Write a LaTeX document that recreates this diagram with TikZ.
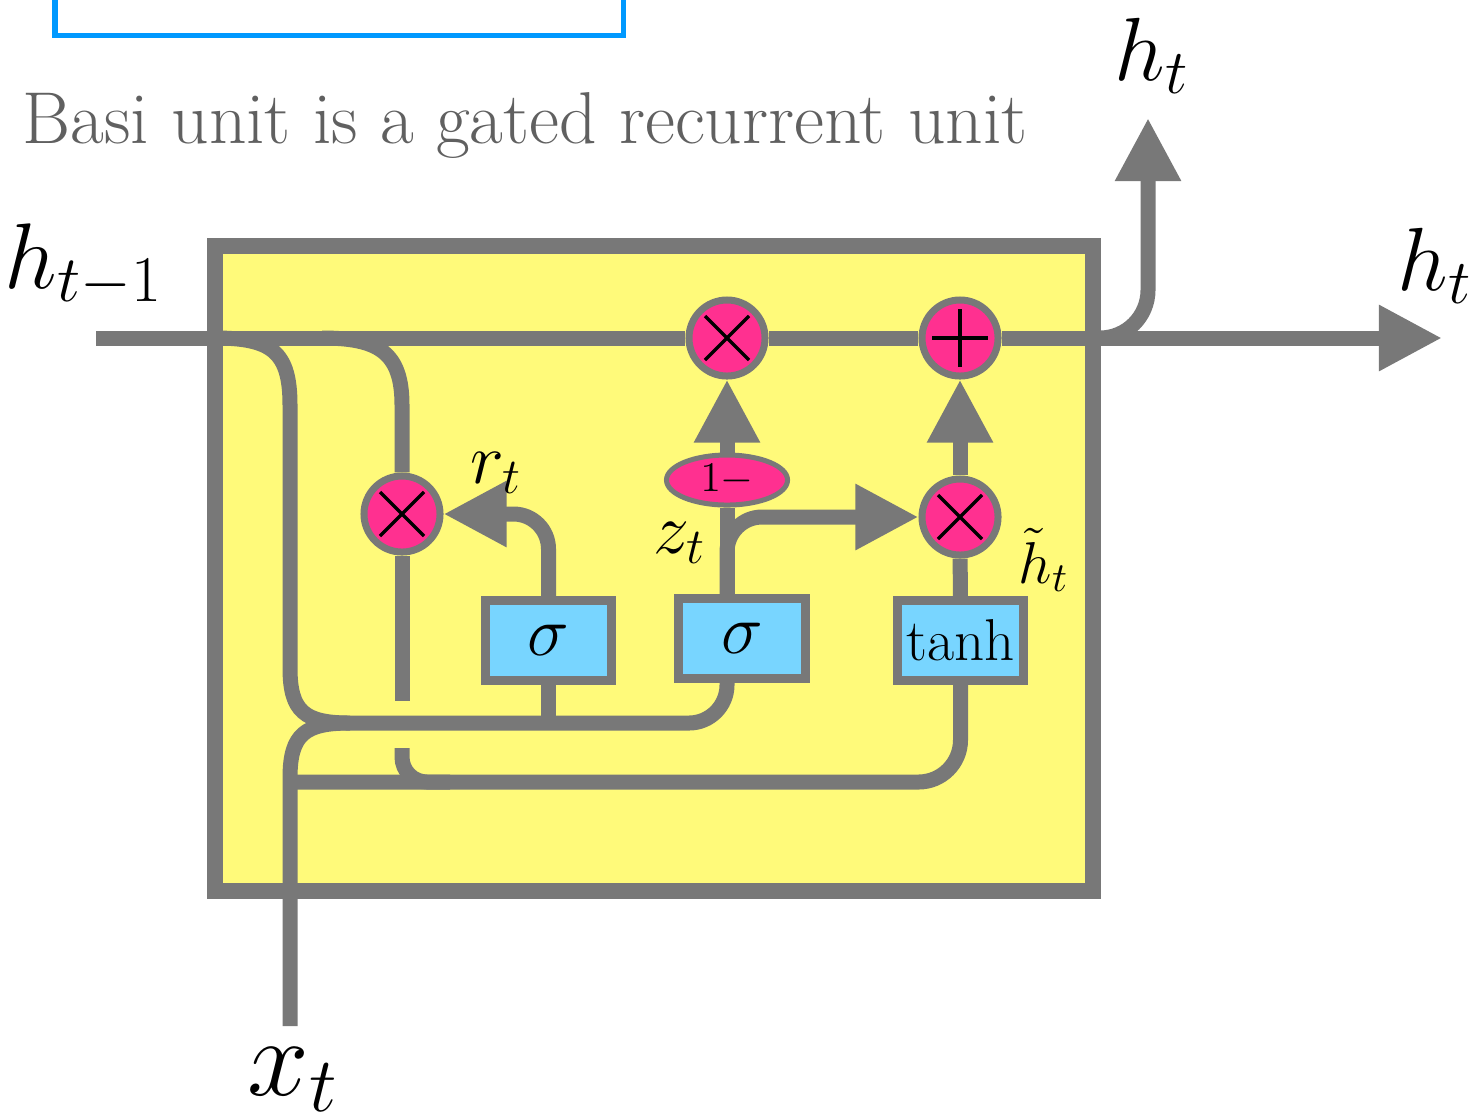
\RequirePackage{fix-cm}
\documentclass[tikz,border=0pt]{standalone}
\usetikzlibrary{arrows.meta,shapes.geometric}
\definecolor{cellgray}{RGB}{120,120,120}
\definecolor{cellyellow}{RGB}{255,250,122}
\definecolor{gatepink}{RGB}{255,48,144}
\definecolor{gateblue}{RGB}{120,213,255}
\definecolor{frameblue}{RGB}{0,153,255}
\definecolor{titlegray}{RGB}{96,96,96}
\begin{document}
\begin{tikzpicture}[
  x=0.01cm, y=-0.01cm,
  >={Triangle[length=0.63cm,width=0.62cm]},
  wire/.style={draw=cellgray,line width=0.15cm},
  flow/.style={wire,->},
  cellbox/.style={draw=cellgray,fill=cellyellow,line width=0.16cm,minimum width=8.78cm,minimum height=6.45cm,inner sep=0pt},
  gatebox/.style={draw=cellgray,fill=gateblue,line width=0.09cm,minimum width=1.26cm,minimum height=0.8cm,inner sep=0pt,font=\fontsize{20}{22}\selectfont},
  opnode/.style={circle,draw=cellgray,fill=gatepink,line width=0.07cm,minimum size=0.76cm,inner sep=0pt},
  mulop/.style={opnode,path picture={
    \draw[black,line width=0.033cm]
      ([shift={(-0.22cm,-0.22cm)}]path picture bounding box.center) -- ([shift={(0.22cm,0.22cm)}]path picture bounding box.center)
      ([shift={(-0.22cm,0.22cm)}]path picture bounding box.center) -- ([shift={(0.22cm,-0.22cm)}]path picture bounding box.center);}},
  addop/.style={opnode,path picture={
    \draw[black,line width=0.033cm]
      ([shift={(-0.28cm,0)}]path picture bounding box.center) -- ([shift={(0.28cm,0)}]path picture bounding box.center)
      ([shift={(0,-0.29cm)}]path picture bounding box.center) -- ([shift={(0,0.29cm)}]path picture bounding box.center);}},
  oneminus/.style={ellipse,draw=cellgray,fill=gatepink,line width=0.05cm,minimum width=1.21cm,minimum height=0.5cm,inner sep=0pt,font=\fontsize{12}{14}\selectfont},
  tag/.style={anchor=base west,inner sep=0pt},
  bigtag/.style={tag,font=\fontsize{25.5}{28}\selectfont},
  smalltag/.style={tag,font=\fontsize{20.5}{23}\selectfont}
]
  \useasboundingbox (0,0) rectangle (1474,1111);
  \draw[frameblue,line width=0.05cm] (55,-20) rectangle (623,35);
  \node[tag,text=titlegray,font=\fontsize{20.9}{24}\selectfont] (title) at (22,143) {Basi unit is a gated recurrent unit};

  \node[cellbox] (cell) at (654,568.5) {};

  \node[mulop] (mA) at (727,338) {};
  \node[addop] (pA) at (960,338) {};
  \node[mulop] (mR) at (402,514) {};
  \node[mulop] (mH) at (960,517) {};
  \node[oneminus] (omz) at (727,480) {$1-$};
  \node[gatebox] (sg1) at (548.5,640.5) {$\sigma$};
  \node[gatebox] (sg2) at (742,638.5) {$\sigma$};
  \node[gatebox,font=\fontsize{16.8}{19}\selectfont] (tanh) at (960.5,640.5) {tanh};

  \coordinate (hin) at (96,338);
  \coordinate (hout) at (1442,338);
  \coordinate (hup) at (1148,118);
  \coordinate (xin) at (290,1026);
  \coordinate (sp1) at (215,338);
  \coordinate (sp2) at (322,338);
  \coordinate (sp3) at (1090,338);
  \coordinate (jl) at (350,723);
  \coordinate (jx) at (290,782);
  \coordinate (gapA) at (402,701);
  \coordinate (gapB) at (402,748);
  \coordinate (mrg) at (450,782);

  % state line
  \draw[wire] (hin) -- (mA);
  \draw[wire] (mA) -- (pA);
  \draw[flow] (pA) -- (hout);
  \draw[flow,rounded corners=0.48cm] (sp3) -| (hup);

  % inputs to the gates
  \draw[wire] (sp1) .. controls (272,338) and (290,352) .. (290,405)
    -- (290,668) .. controls (290,712) and (305,723) .. (jl);
  \draw[wire] (xin) -- (jx) -- (290,778) .. controls (290,734) and (305,723) .. (jl);
  \draw[wire,rounded corners=0.38cm] (jl) -| (sg2.south -| mA);
  \draw[wire] (sg1) -- (sg1 |- jl);
  \draw[wire,rounded corners=0.42cm] (jx) -| (tanh.south);

  % reset path
  \draw[wire] (sp2) .. controls (378,338) and (402,352) .. (402,405) -- (mR);
  \draw[wire] (mR) -- (gapA);
  \draw[wire,rounded corners=0.25cm] (gapB) |- (mrg);
  \draw[flow,rounded corners=0.35cm] (sg1) |- (mR);

  % update path
  \draw[wire] (sg2.north -| mA) -- (omz);
  \draw[flow] (omz) -- (mA);
  \draw[flow,rounded corners=0.35cm] (sg2.north -| mA) |- (mH);
  \draw[wire] (tanh) -- (mH);
  \draw[flow] (mH) -- (pA);

  \node[tag,font=\fontsize{26.5}{29}\selectfont] (lhprev) at (4,288) {$h_{t-1}$};
  \node[bigtag] (lhup) at (1114,80) {$h_t$};
  \node[bigtag] (lhout) at (1397,290) {$h_t$};
  \node[tag,font=\fontsize{31.5}{34}\selectfont] (lx) at (247,1095) {$x_t$};
  \node[smalltag] (lr) at (470,483) {$r_t$};
  \node[smalltag] (lz) at (653,553) {$z_t$};
  \node[tag,font=\fontsize{16.8}{19}\selectfont] (lhtil) at (1018,583) {$\tilde{h}_t$};
\end{tikzpicture}
\end{document}
